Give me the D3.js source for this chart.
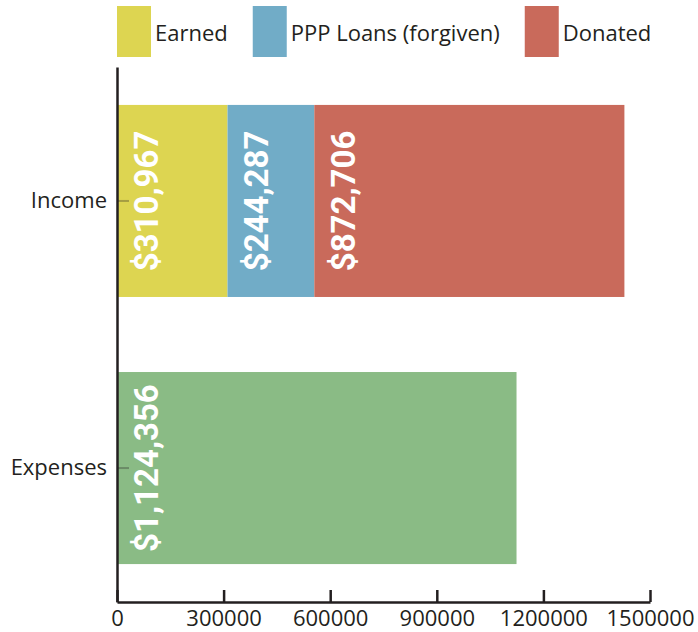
<!DOCTYPE html>
<html>
<head>
<meta charset="utf-8">
<script src="https://cdn.jsdelivr.net/npm/d3@7"></script>
<style>
  body { margin: 0; background: #fff; }
  text { font-family: "Open Sans", sans-serif; fill: #231f20; }
</style>
</head>
<body>
<div id="chart"></div>
<script>
var categories = ["Income", "Expenses"];
var seriesNames = ["Earned", "PPP Loans (forgiven)", "Donated"];
var incomeValues = [310967, 244287, 872706];
var expenseValues = [1124356];
var xTicks = [0, 300000, 600000, 900000, 1200000, 1500000];

var incomeColors = ["#ddd551", "#71acc7", "#c96a5b"];
var expenseColor = "#8abb85";

var width = 698, height = 632;

var svg = d3.select("#chart").append("svg")
  .attr("width", width)
  .attr("height", height);

var x = d3.scaleLinear()
  .domain([0, 1500000])
  .range([117, 650]);

var y = d3.scaleBand()
  .domain(categories)
  .range([67, 602])
  .paddingInner(0.281)
  .paddingOuter(0.142);

// build stacked segments
var segments = [];
var acc = 0;
incomeValues.forEach(function(v, i) {
  segments.push({cat: "Income", x0: acc, x1: acc + v, value: v, color: incomeColors[i]});
  acc += v;
});
expenseValues.forEach(function(v) {
  segments.push({cat: "Expenses", x0: 0, x1: v, value: v, color: expenseColor});
});

svg.selectAll("rect.bar")
  .data(segments)
  .enter().append("rect")
    .attr("class", "bar")
    .attr("x", function(d) { return x(d.x0); })
    .attr("y", function(d) { return y(d.cat); })
    .attr("width", function(d) { return x(d.x1) - x(d.x0); })
    .attr("height", y.bandwidth())
    .attr("fill", function(d) { return d.color; });

var fmt = d3.format(",");
svg.selectAll("text.val")
  .data(segments)
  .enter().append("text")
    .attr("class", "val")
    .attr("transform", function(d) {
      return "translate(" + (x(d.x0) + 41) + "," + (y(d.cat) + y.bandwidth() / 2) + ") rotate(-90)";
    })
    .attr("text-anchor", "middle")
    .style("font-family", "Roboto, sans-serif")
    .style("font-weight", "bold")
    .style("font-size", "33px")
    .style("fill", "#fff")
    .text(function(d) { return "$" + fmt(d.value); });

// x axis
var xAxis = svg.append("g")
  .attr("transform", "translate(0,602)")
  .call(d3.axisBottom(x).tickValues(xTicks).tickFormat(d3.format("d")).tickSizeInner(-12).tickSizeOuter(0).tickPadding(8));
xAxis.select(".domain").attr("stroke", "#231f20").attr("stroke-width", 2.5);
xAxis.selectAll(".tick line").attr("stroke", "#231f20").attr("stroke-width", 2.5);
xAxis.selectAll(".tick text")
  .style("font-family", "Open Sans, sans-serif")
  .style("font-size", "22px")
  .attr("fill", "#231f20");

// y axis
var yAxis = svg.append("g")
  .attr("transform", "translate(117,0)")
  .call(d3.axisLeft(y).tickSizeInner(-12).tickSizeOuter(0).tickPadding(10));
yAxis.select(".domain").attr("stroke", "#231f20").attr("stroke-width", 2.5);
yAxis.selectAll(".tick line").attr("stroke", "#231f20").attr("stroke-width", 2).attr("stroke-opacity", 0.3);
yAxis.selectAll(".tick text")
  .style("font-family", "Open Sans, sans-serif")
  .style("font-size", "22px")
  .attr("fill", "#231f20");

// legend
var legend = svg.append("g").attr("class", "legend");
var lx = 117;
seriesNames.forEach(function(name, i) {
  var g = legend.append("g").attr("transform", "translate(" + lx + ",0)");
  g.append("rect")
    .attr("x", 0).attr("y", 6)
    .attr("width", 34).attr("height", 51)
    .attr("fill", incomeColors[i]);
  var t = g.append("text")
    .attr("x", 38).attr("y", 32)
    .attr("dominant-baseline", "central")
    .style("font-size", "22px")
    .text(name);
  lx += 38 + t.node().getComputedTextLength() + 25;
});
</script>
</body>
</html>
